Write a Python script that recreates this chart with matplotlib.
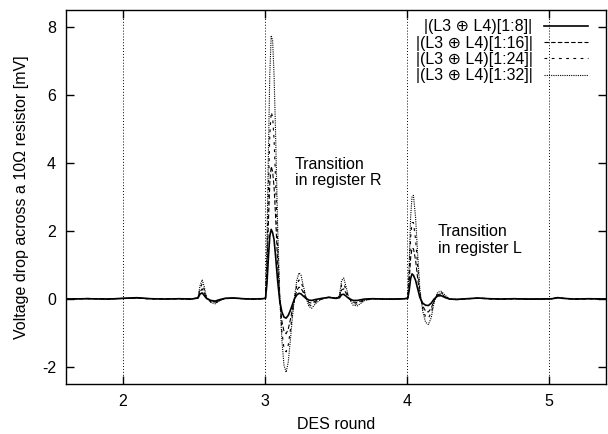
import matplotlib
matplotlib.use('Agg')
import matplotlib.pyplot as plt

plt.rcParams['font.family'] = ['Liberation Sans', 'DejaVu Sans']
plt.rcParams['axes.unicode_minus'] = False
plt.rcParams['font.size'] = 11.5

# time axis (DES rounds)
x = [1.60, 1.75, 1.90, 2.00, 2.10, 2.20, 2.30, 2.40, 2.48, 2.53,
     2.545, 2.56, 2.575, 2.59, 2.62, 2.65, 2.68, 2.72, 2.78, 2.85,
     2.92, 2.98, 3.005, 3.015, 3.025, 3.035, 3.045, 3.055, 3.065, 3.075,
     3.09, 3.105, 3.12, 3.135, 3.15, 3.165, 3.18, 3.195, 3.21, 3.225,
     3.24, 3.255, 3.27, 3.29, 3.31, 3.33, 3.36, 3.40, 3.45, 3.50,
     3.525, 3.54, 3.555, 3.57, 3.59, 3.62, 3.65, 3.70, 3.76, 3.84,
     3.92, 3.98, 4.005, 4.015, 4.025, 4.035, 4.045, 4.06, 4.075, 4.09,
     4.11, 4.13, 4.15, 4.17, 4.19, 4.215, 4.24, 4.27, 4.30, 4.35,
     4.42, 4.50, 4.58, 4.66, 4.75, 4.85, 4.95, 5.02, 5.06, 5.10,
     5.18, 5.28, 5.40]

# |(L3 xor L4)[1:8]|
v8 = [0.00, 0.01, 0.00, 0.02, 0.04, 0.01, 0.00, 0.01, 0.00, 0.03,
      0.15, 0.18, 0.10, 0.02, -0.04, -0.06, -0.02, 0.02, 0.03, 0.01,
      0.00, 0.01, 0.02, 0.45, 1.20, 1.85, 2.05, 1.95, 1.75, 1.30,
      0.55, -0.05, -0.38, -0.53, -0.56, -0.48, -0.33, -0.15, 0.02, 0.12,
      0.17, 0.15, 0.09, 0.02, -0.03, -0.04, -0.01, 0.02, 0.05, 0.02,
      0.04, 0.13, 0.14, 0.09, 0.02, -0.04, -0.04, 0.00, 0.01, 0.00,
      0.00, 0.01, 0.02, 0.25, 0.60, 0.74, 0.70, 0.55, 0.30, 0.05,
      -0.12, -0.18, -0.19, -0.12, 0.00, 0.09, 0.10, 0.04, 0.00, -0.01,
      0.01, 0.03, 0.01, 0.00, 0.01, 0.00, 0.00, 0.01, 0.04, 0.02,
      0.00, 0.01, 0.00]

# |(L3 xor L4)[1:16]|
v16 = [0.00, 0.02, 0.00, 0.02, 0.03, 0.01, 0.01, 0.01, 0.00, 0.03,
       0.22, 0.30, 0.18, 0.03, -0.06, -0.09, -0.04, 0.02, 0.03, 0.01,
       0.00, 0.01, 0.02, 0.85, 2.20, 3.40, 3.90, 3.75, 3.30, 2.50,
       1.10, 0.00, -0.65, -0.95, -1.02, -0.88, -0.60, -0.28, 0.03, 0.25,
       0.35, 0.32, 0.20, 0.03, -0.10, -0.12, -0.05, 0.01, 0.05, 0.02,
       0.06, 0.27, 0.30, 0.18, 0.03, -0.09, -0.10, -0.02, 0.01, 0.00,
       0.00, 0.01, 0.02, 0.50, 1.20, 1.50, 1.48, 1.15, 0.60, 0.12,
       -0.20, -0.35, -0.38, -0.27, -0.04, 0.13, 0.15, 0.06, 0.00, -0.01,
       0.01, 0.02, 0.01, 0.00, 0.01, 0.00, 0.01, 0.01, 0.04, 0.02,
       0.00, 0.01, 0.00]

# |(L3 xor L4)[1:24]|
v24 = [0.00, 0.01, 0.01, 0.02, 0.03, 0.00, 0.01, 0.01, 0.00, 0.03,
       0.32, 0.45, 0.27, 0.04, -0.08, -0.12, -0.05, 0.02, 0.03, 0.01,
       0.00, 0.01, 0.03, 1.20, 3.10, 4.80, 5.50, 5.35, 4.70, 3.60,
       1.60, 0.05, -0.95, -1.45, -1.55, -1.35, -0.90, -0.40, 0.06, 0.40,
       0.56, 0.52, 0.30, 0.04, -0.16, -0.20, -0.08, 0.00, 0.05, 0.02,
       0.08, 0.42, 0.46, 0.28, 0.04, -0.13, -0.15, -0.03, 0.01, 0.00,
       0.00, 0.01, 0.03, 0.75, 1.80, 2.25, 2.25, 1.75, 0.95, 0.20,
       -0.28, -0.52, -0.56, -0.40, -0.07, 0.17, 0.19, 0.08, 0.00, -0.01,
       0.01, 0.03, 0.01, 0.00, 0.01, 0.00, 0.00, 0.01, 0.05, 0.02,
       0.00, 0.01, 0.00]

# |(L3 xor L4)[1:32]|
v32 = [0.00, 0.01, 0.00, 0.02, 0.03, 0.01, 0.00, 0.01, 0.00, 0.04,
       0.40, 0.57, 0.35, 0.05, -0.10, -0.14, -0.06, 0.02, 0.03, 0.01,
       0.00, 0.01, 0.03, 1.60, 4.20, 6.60, 7.75, 7.60, 6.60, 5.00,
       2.20, 0.10, -1.20, -1.95, -2.15, -1.85, -1.20, -0.50, 0.10, 0.55,
       0.77, 0.70, 0.40, 0.05, -0.22, -0.27, -0.12, 0.00, 0.06, 0.03,
       0.10, 0.55, 0.62, 0.38, 0.05, -0.18, -0.20, -0.05, 0.01, 0.00,
       0.00, 0.01, 0.03, 1.00, 2.40, 3.00, 3.05, 2.40, 1.30, 0.30,
       -0.35, -0.68, -0.75, -0.55, -0.10, 0.20, 0.23, 0.10, 0.00, -0.02,
       0.01, 0.03, 0.01, 0.00, 0.01, 0.00, 0.00, 0.01, 0.05, 0.02,
       0.00, 0.01, 0.00]

labels = ['|(L3 ⊕ L4)[1:8]|', '|(L3 ⊕ L4)[1:16]|',
          '|(L3 ⊕ L4)[1:24]|', '|(L3 ⊕ L4)[1:32]|']

fig = plt.figure(figsize=(6.08, 4.34), dpi=100)
ax = fig.add_axes([0.108, 0.115, 0.889, 0.862])

# vertical grid lines at round boundaries
for r in [2, 3, 4, 5]:
    ax.axvline(r, color='black', linestyle=(0, (1, 2)), linewidth=0.7, zorder=1)

ax.plot(x, v8, color='black', linewidth=1.2, linestyle='-', label=labels[0])
ax.plot(x, v16, color='black', linewidth=0.8, linestyle=(0, (4, 2)), label=labels[1])
ax.plot(x, v24, color='black', linewidth=0.8, linestyle=(0, (2.5, 4)), label=labels[2])
ax.plot(x, v32, color='black', linewidth=0.8, linestyle=(0, (1, 1)), label=labels[3])

ax.text(3.21, 3.97, 'Transition', va='center', ha='left')
ax.text(3.21, 3.50, 'in register R', va='center', ha='left')
ax.text(4.216, 1.99, 'Transition', va='center', ha='left')
ax.text(4.216, 1.50, 'in register L', va='center', ha='left')

ax.set_xlim(1.6, 5.4)
ax.set_ylim(-2.5, 8.5)
ax.set_xticks([2, 3, 4, 5])
ax.set_yticks([-2, 0, 2, 4, 6, 8])
ax.tick_params(direction='in', length=6, width=1, top=True, right=True)
ax.tick_params(axis='y', pad=7)
ax.tick_params(axis='x', pad=7)
for s in ax.spines.values():
    s.set_linewidth(1.0)

ax.set_xlabel('DES round', labelpad=6)
ax.set_ylabel('Voltage drop across a 10Ω resistor [mV]', labelpad=9)

ax.legend(loc='upper right', bbox_to_anchor=(0.967, 0.975), frameon=False,
          markerfirst=False, handlelength=2.8, handletextpad=0.7,
          labelspacing=0.08, borderpad=0, borderaxespad=0)

plt.savefig('out.png', dpi=100)
